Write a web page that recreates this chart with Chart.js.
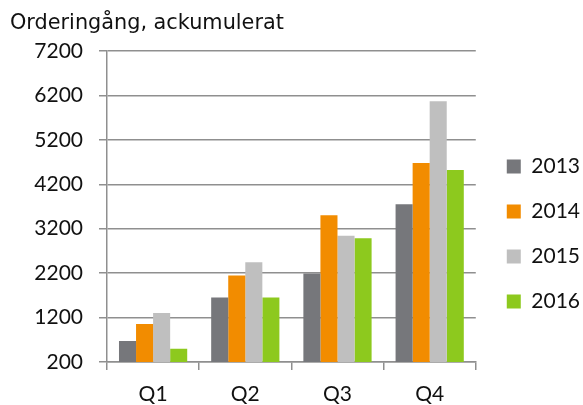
<!DOCTYPE html>
<html>
<head>
<meta charset="utf-8">
<script src="https://cdn.jsdelivr.net/npm/chart.js@4/dist/chart.umd.min.js"></script>
<style>
  html, body { margin: 0; padding: 0; background: #fff; }
  #wrap { width: 583px; height: 405px; }
</style>
</head>
<body>
<div id="wrap"><canvas id="barChart"></canvas></div>
<script>
const quarters = ["Q1", "Q2", "Q3", "Q4"];
const yearLabels = ["2013", "2014", "2015", "2016"];
const values2013 = [670, 1650, 2190, 3750];
const values2014 = [1055, 2145, 3500, 4680];
const values2015 = [1300, 2445, 3040, 6070];
const values2016 = [500, 1650, 2985, 4520];
const yTicks = [200, 1200, 2200, 3200, 4200, 5200, 6200, 7200];
const colors = ["#76777b", "#f28c00", "#bfbfbf", "#8dc91e"];

const gridColor = "#8f8f8f";
const tickFont = { family: "Lato", size: 21 };

// nudge the legend down/right, the original sits lower than chart.js centres it
const legendShift = {
  id: "legendShift",
  afterLayout(chart) {
    const lg = chart.legend;
    lg.top += 26;
    lg.bottom += 26;
    lg.left += 7;
    lg.right += 7;
  }
};

new Chart(document.getElementById("barChart").getContext("2d"), {
  type: "bar",
  data: {
    labels: quarters,
    datasets: [values2013, values2014, values2015, values2016].map((vals, i) => ({
      label: yearLabels[i],
      data: vals,
      backgroundColor: colors[i],
      borderWidth: 0,
      barPercentage: 1,
      categoryPercentage: 0.74,
    })),
  },
  options: {
    responsive: true,
    maintainAspectRatio: false,
    animation: false,
    layout: { padding: { left: 10, right: 0, top: 11, bottom: 0 } },
    plugins: {
      title: {
        display: true,
        text: "Orderingång, ackumulerat",
        align: "start",
        color: "#111",
        font: { family: "DejaVu Sans", size: 20.8, weight: "normal" },
        padding: { top: 0, bottom: 15 },
      },
      legend: {
        position: "right",
        align: "center",
        labels: {
          color: "#111",
          font: tickFont,
          boxWidth: 14,
          boxHeight: 14,
          padding: 24,
        },
      },
      tooltip: { enabled: false },
    },
    scales: {
      y: {
        min: 200,
        max: 7200,
        afterBuildTicks: (scale) => { scale.ticks = yTicks.map(v => ({ value: v })); },
        afterFit: (scale) => { scale.width = 97; },
        ticks: { color: "#111", font: tickFont, padding: 16, callback: (v) => String(v) },
        grid: { color: gridColor, lineWidth: 1.5, tickLength: 8 },
        border: { color: gridColor, width: 1.5 },
      },
      x: {
        afterFit: (scale) => { scale.height = 43; },
        ticks: { color: "#111", font: tickFont, padding: 12 },
        grid: { color: gridColor, lineWidth: 1.5, drawOnChartArea: false, tickLength: 8, offset: true },
        border: { color: gridColor, width: 1.5 },
      },
    },
  },
  plugins: [legendShift],
});
</script>
</body>
</html>
